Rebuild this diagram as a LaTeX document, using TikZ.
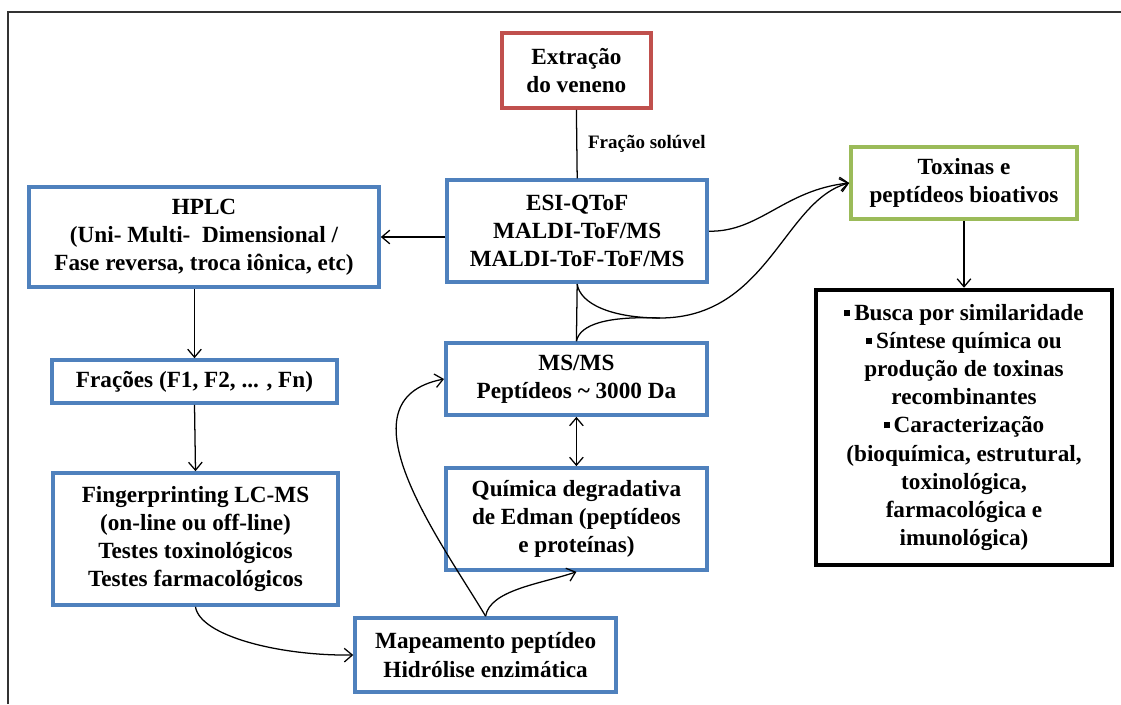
\documentclass[tikz,border=0pt]{standalone}
\usepackage{fontspec}
\setmainfont{Liberation Serif}
\usetikzlibrary{arrows.meta}
\definecolor{bordaazul}{RGB}{79,129,189}
\definecolor{bordavermelha}{RGB}{192,80,77}
\definecolor{bordaverde}{RGB}{155,187,89}
\newcommand{\marcador}{\raisebox{0.2em}{\rule{0.26em}{0.26em}}\,}

\begin{document}
\begin{tikzpicture}[line width=0.9pt,>={Straight Barb[length=2mm,width=3.4mm]},
  caixa/.style={draw,align=center,inner sep=2pt,line width=2.6pt,
    font=\fontsize{16.5}{20}\selectfont\bfseries},
  azul/.style={caixa,draw=bordaazul},
  vermelha/.style={caixa,draw=bordavermelha},
  verde/.style={caixa,draw=bordaverde},
  preta/.style={caixa,draw=black,line width=3.2pt}]
\useasboundingbox (0,0) rectangle (28.025,-17.6);
% moldura (so topo e esquerda)
\draw[line width=1.4pt,black!80] (0.2,-17.6) -- (0.2,-0.3) -- (28.025,-0.3);
% ---------- coluna central ----------
\node[vermelha,minimum width=3.73cm,minimum height=1.88cm] (extr) at (14.41,-1.76) {Extração\\do veneno};
\node[azul,minimum width=6.5cm,minimum height=2.55cm] (esi) at (14.43,-5.78) {ESI-QToF\\MALDI-ToF/MS\\MALDI-ToF-ToF/MS};
\node[azul,minimum width=6.525cm,minimum height=1.8cm] (ms) at (14.41,-9.475) {MS/MS\\Peptídeos \textasciitilde{} 3000 Da};
\node[azul,minimum width=6.525cm,minimum height=2.55cm] (edman) at (14.41,-12.975) {Química degradativa\\de Edman (peptídeos\\e proteínas)};
\node[azul,minimum width=6.525cm,minimum height=1.85cm] (mapa) at (12.14,-16.375) {Mapeamento peptídeo\\Hidrólise enzimática};
% ---------- coluna esquerda ----------
\node[azul,minimum width=8.75cm,minimum height=2.5cm] (hplc) at (5.1,-5.925) {HPLC\\(Uni- Multi-\ \ Dimensional /\\Fase reversa, troca iônica, etc)};
\node[azul,minimum width=7.125cm,minimum height=1.075cm] (fracoes) at (4.8625,-9.5375) {Frações (F1, F2, ... , Fn)};
\node[azul,minimum width=7.125cm,minimum height=3.3cm] (finger) at (4.8875,-13.475) {Fingerprinting LC-MS\\(on-line ou off-line)\\Testes toxinológicos\\Testes farmacológicos};
% ---------- coluna direita ----------
\node[verde,minimum width=5.65cm,minimum height=1.8cm] (toxinas) at (24.1,-4.575) {Toxinas e\\peptídeos bioativos};
\node[preta,minimum width=7.4cm,minimum height=6.875cm] (aplic) at (24.1,-10.6875) {\marcador Busca por similaridade\\\marcador Síntese química ou\\produção de toxinas\\recombinantes\\\marcador Caracterização\\(bioquímica, estrutural,\\toxinológica,\\farmacológica e\\imunológica)};
% ligacoes
\draw (extr.south) -- node[midway,anchor=west,xshift=0.15cm,font=\fontsize{13.5}{16}\selectfont\bfseries] {Fração solúvel} (esi.north);
\draw[->] (esi.west |- hplc.east) -- (hplc.east);
\draw[->] (hplc.south -| fracoes.north) -- (fracoes.north);
\draw[->] (fracoes.south) -- (finger.north);
\draw[->] (finger.south) .. controls (5.0,-15.9) and (7.0,-16.4) .. (mapa.west);
\draw[->] (mapa.north) .. controls (11.0,-13.5) and (8.4,-10.0) .. (ms.west);
\draw[->] (mapa.north) .. controls (12.25,-14.75) and (13.5,-14.6) .. (edman.south);
\draw[<->] (ms.south) -- (edman.north);
\draw (esi.south) -- (ms.north);
% ramos ate as toxinas
\coordinate (juncao) at (16.5,-7.95);
\draw[->] (esi.east) .. controls (19.0,-5.8) and (19.6,-4.75) .. (toxinas.west);
\draw[->] (esi.south) .. controls (14.5,-7.6) and (15.3,-7.95) .. (juncao) .. controls (19.2,-7.95) and (19.6,-5.0) .. (toxinas.west);
\draw (ms.north) .. controls (14.5,-8.1) and (15.2,-7.9) .. (juncao);
\draw[->] (toxinas.south) -- (aplic.north);
\end{tikzpicture}
\end{document}
